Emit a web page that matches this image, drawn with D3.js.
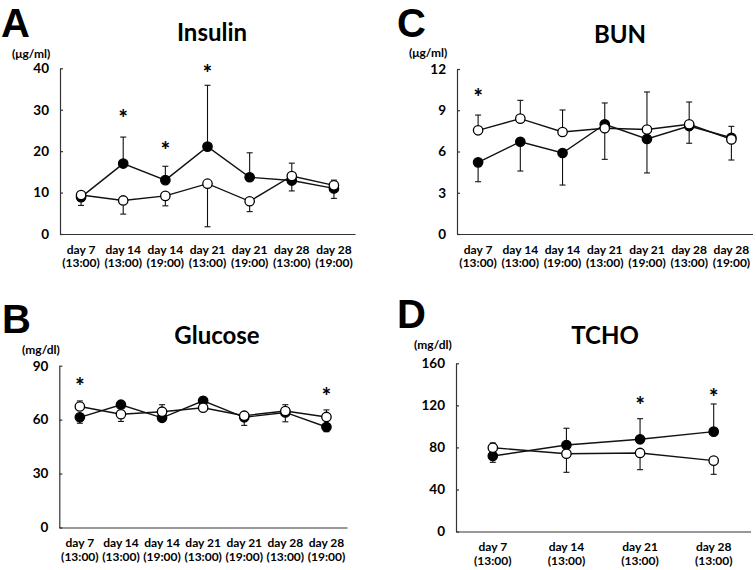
<!DOCTYPE html>
<html>
<head>
<meta charset="utf-8">
<script src="https://cdn.jsdelivr.net/npm/d3@7"></script>
<style>
  html, body { margin: 0; padding: 0; background: #fff; }
  svg text { font-family: Lato, "Open Sans", sans-serif; font-weight: 700; fill: #000; }
</style>
</head>
<body>
<svg id="chart" width="756" height="570"></svg>
<script>
// ---------- DATA ----------
const catsLong = [["day 7","(13:00)"],["day 14","(13:00)"],["day 14","(19:00)"],["day 21","(13:00)"],["day 21","(19:00)"],["day 28","(13:00)"],["day 28","(19:00)"]];
const catsShort = [["day 7","(13:00)"],["day 14","(13:00)"],["day 21","(13:00)"],["day 28","(13:00)"]];

// Insulin (µg/ml)
const insulinTicks = [0, 10, 20, 30, 40];
const insulinFilled = [8.9, 17.0, 13.0, 21.1, 13.7, 12.9, 11.0];
const insulinFilledErr = [2.0, 6.4, 3.35, 14.8, 5.9, 2.5, 2.4];
const insulinFilledDir = [-1, 1, 1, 1, 1, -1, -1];
const insulinOpen = [9.4, 8.1, 9.2, 12.15, 7.9, 14.0, 11.75];
const insulinOpenErr = [0.8, 3.3, 2.4, 10.4, 2.5, 3.1, 1.25];
const insulinOpenDir = [1, -1, -1, -1, -1, 1, 1];
const insulinStars = [null, 28.7, 20.9, 39.6, null, null, null];

// BUN (µg/ml)
const bunTicks = [0, 3, 6, 9, 12];
const bunFilled = [5.21, 6.71, 5.89, 7.98, 6.91, 7.85, 7.0];
const bunFilledErr = [1.41, 2.13, 2.33, 1.55, 2.47, 1.25, 0.83];
const bunFilledDir = [-1, -1, -1, 1, -1, -1, 1];
const bunOpen = [7.54, 8.39, 7.42, 7.69, 7.6, 7.98, 6.88];
const bunOpenErr = [1.11, 1.33, 1.6, 2.26, 2.73, 1.62, 1.5];
const bunOpenDir = [1, 1, 1, -1, 1, 1, -1];
const bunStars = [10.16, null, null, null, null, null, null];

// Glucose (mg/dl)
const glucoseTicks = [0, 30, 60, 90];
const glucoseFilled = [61.3, 68.3, 61.0, 70.5, 61.3, 64.0, 55.9];
const glucoseFilledErr = [3.3, 1.5, 1.5, 1.2, 4.5, 5.2, 2.6];
const glucoseFilledDir = [-1, 1, -1, 1, -1, -1, -1];
const glucoseOpen = [67.3, 63.0, 64.4, 66.6, 62.2, 64.8, 61.5];
const glucoseOpenErr = [3.1, 4.0, 3.9, 1.5, 1.5, 3.5, 3.9];
const glucoseOpenDir = [1, -1, 1, -1, 1, 1, 1];
const glucoseStars = [80.5, null, null, null, null, null, 75.0];

// TCHO (mg/dl)
const tchoTicks = [0, 40, 80, 120, 160];
const tchoFilled = [71.8, 82.3, 87.7, 95.0];
const tchoFilledErr = [6.0, 15.9, 19.6, 26.3];
const tchoFilledDir = [-1, 1, 1, 1];
const tchoOpen = [79.7, 74.0, 74.7, 67.4];
const tchoOpenErr = [4.5, 17.7, 15.9, 13.0];
const tchoOpenDir = [1, -1, -1, -1];
const tchoStars = [null, null, 123, 131];

// ---------- DRAW ----------
const svg = d3.select("#chart");

function drawPanel(p) {
  const g = svg.append("g");
  const x = d3.scaleBand().domain(d3.range(p.cats.length)).range([p.left, p.right]);
  const ymax = p.ticks[p.ticks.length - 1];
  const y = d3.scaleLinear().domain([0, ymax]).range([p.bottom, p.top]);
  const cx = i => x(i) + x.bandwidth() / 2;

  // letter, title, unit
  g.append("text").attr("x", p.letterX).attr("y", p.letterY)
    .style("font-family", "'Liberation Sans', Arial, sans-serif").style("font-weight", 700)
    .style("font-size", "40px").text(p.letter);
  g.append("text").attr("x", p.titleX).attr("y", p.titleY).attr("text-anchor", "middle")
    .style("font-size", "24px").text(p.title);
  g.append("text").attr("x", p.unitX).attr("y", p.unitY)
    .style("font-size", "12px").text(p.unit);

  // y axis
  const yAxis = d3.axisLeft(y).tickValues(p.ticks).tickSizeInner(-3).tickSizeOuter(0).tickPadding(11);
  const ya = g.append("g").attr("transform", `translate(${p.left},0)`).call(yAxis);
  ya.select(".domain").attr("stroke", "#333").attr("stroke-width", 1.2);
  ya.selectAll(".tick line").attr("stroke", "#333").attr("stroke-width", 1.2);
  ya.selectAll(".tick text").style("font-family", "Lato, sans-serif").style("font-weight", 700)
    .style("font-size", "13.5px").attr("fill", "#000");

  // x axis
  const xAxis = d3.axisBottom(x).tickSize(0).tickSizeOuter(0).tickFormat("");
  const xa = g.append("g").attr("transform", `translate(0,${p.bottom})`).call(xAxis);
  xa.select(".domain").attr("stroke", "#333").attr("stroke-width", 1.2);
  xa.selectAll(".tick").each(function(d) {
    const t = d3.select(this).append("text").attr("text-anchor", "middle")
      .style("font-family", "Lato, sans-serif").style("font-weight", 700).style("font-size", "12px")
      .attr("fill", "#000");
    t.append("tspan").attr("x", 0).attr("y", 19.5).text(p.cats[d][0]);
    t.append("tspan").attr("x", 0).attr("y", 33).text(p.cats[d][1]);
  });

  const line = d3.line().x((d, i) => cx(i)).y(d => y(d));

  function series(vals, errs, dirs, filled) {
    const s = g.append("g");
    // error bars
    vals.forEach((v, i) => {
      const end = v + dirs[i] * errs[i];
      s.append("line").attr("x1", cx(i)).attr("x2", cx(i)).attr("y1", y(v)).attr("y2", y(end))
        .attr("stroke", "#111").attr("stroke-width", 1.1);
      s.append("line").attr("x1", cx(i) - 3).attr("x2", cx(i) + 3).attr("y1", y(end)).attr("y2", y(end))
        .attr("stroke", "#111").attr("stroke-width", 1.1);
    });
    s.append("path").datum(vals).attr("d", line).attr("fill", "none")
      .attr("stroke", "#111").attr("stroke-width", 1.4);
    s.selectAll("circle").data(vals).join("circle")
      .attr("cx", (d, i) => cx(i)).attr("cy", d => y(d)).attr("r", 4.7)
      .attr("fill", filled ? "#000" : "#fff").attr("stroke", "#000").attr("stroke-width", 1.3);
  }
  series(p.filled, p.filledErr, p.filledDir, true);
  series(p.open, p.openErr, p.openDir, false);

  // significance
  p.stars.forEach((v, i) => {
    if (v == null) return;
    g.append("text").attr("x", cx(i)).attr("y", y(v) + 11).attr("text-anchor", "middle")
      .style("font-family", "Lato, sans-serif").style("font-weight", 900)
      .style("font-size", "22px").text("*");
  });
}

drawPanel({
  letter: "A", letterX: 1, letterY: 37, title: "Insulin", titleX: 212, titleY: 41,
  unit: "(μg/ml)", unitX: 12, unitY: 58,
  left: 60, right: 355, top: 68.3, bottom: 234, ticks: insulinTicks, cats: catsLong,
  filled: insulinFilled, filledErr: insulinFilledErr, filledDir: insulinFilledDir,
  open: insulinOpen, openErr: insulinOpenErr, openDir: insulinOpenDir, stars: insulinStars
});
drawPanel({
  letter: "C", letterX: 397, letterY: 37, title: "BUN", titleX: 620, titleY: 43,
  unit: "(μg/ml)", unitX: 409, unitY: 57,
  left: 457, right: 752.5, top: 69, bottom: 234, ticks: bunTicks, cats: catsLong,
  filled: bunFilled, filledErr: bunFilledErr, filledDir: bunFilledDir,
  open: bunOpen, openErr: bunOpenErr, openDir: bunOpenDir, stars: bunStars
});
drawPanel({
  letter: "B", letterX: 2, letterY: 333, title: "Glucose", titleX: 217, titleY: 344,
  unit: "(mg/dl)", unitX: 22, unitY: 354,
  left: 59.3, right: 347, top: 365.7, bottom: 527.5, ticks: glucoseTicks, cats: catsLong,
  filled: glucoseFilled, filledErr: glucoseFilledErr, filledDir: glucoseFilledDir,
  open: glucoseOpen, openErr: glucoseOpenErr, openDir: glucoseOpenDir, stars: glucoseStars
});
drawPanel({
  letter: "D", letterX: 397, letterY: 328, title: "TCHO", titleX: 605, titleY: 344,
  unit: "(mg/dl)", unitX: 414, unitY: 349,
  left: 456, right: 750.5, top: 363.3, bottom: 531.5, ticks: tchoTicks, cats: catsShort,
  filled: tchoFilled, filledErr: tchoFilledErr, filledDir: tchoFilledDir,
  open: tchoOpen, openErr: tchoOpenErr, openDir: tchoOpenDir, stars: tchoStars
});
</script>
</body>
</html>
